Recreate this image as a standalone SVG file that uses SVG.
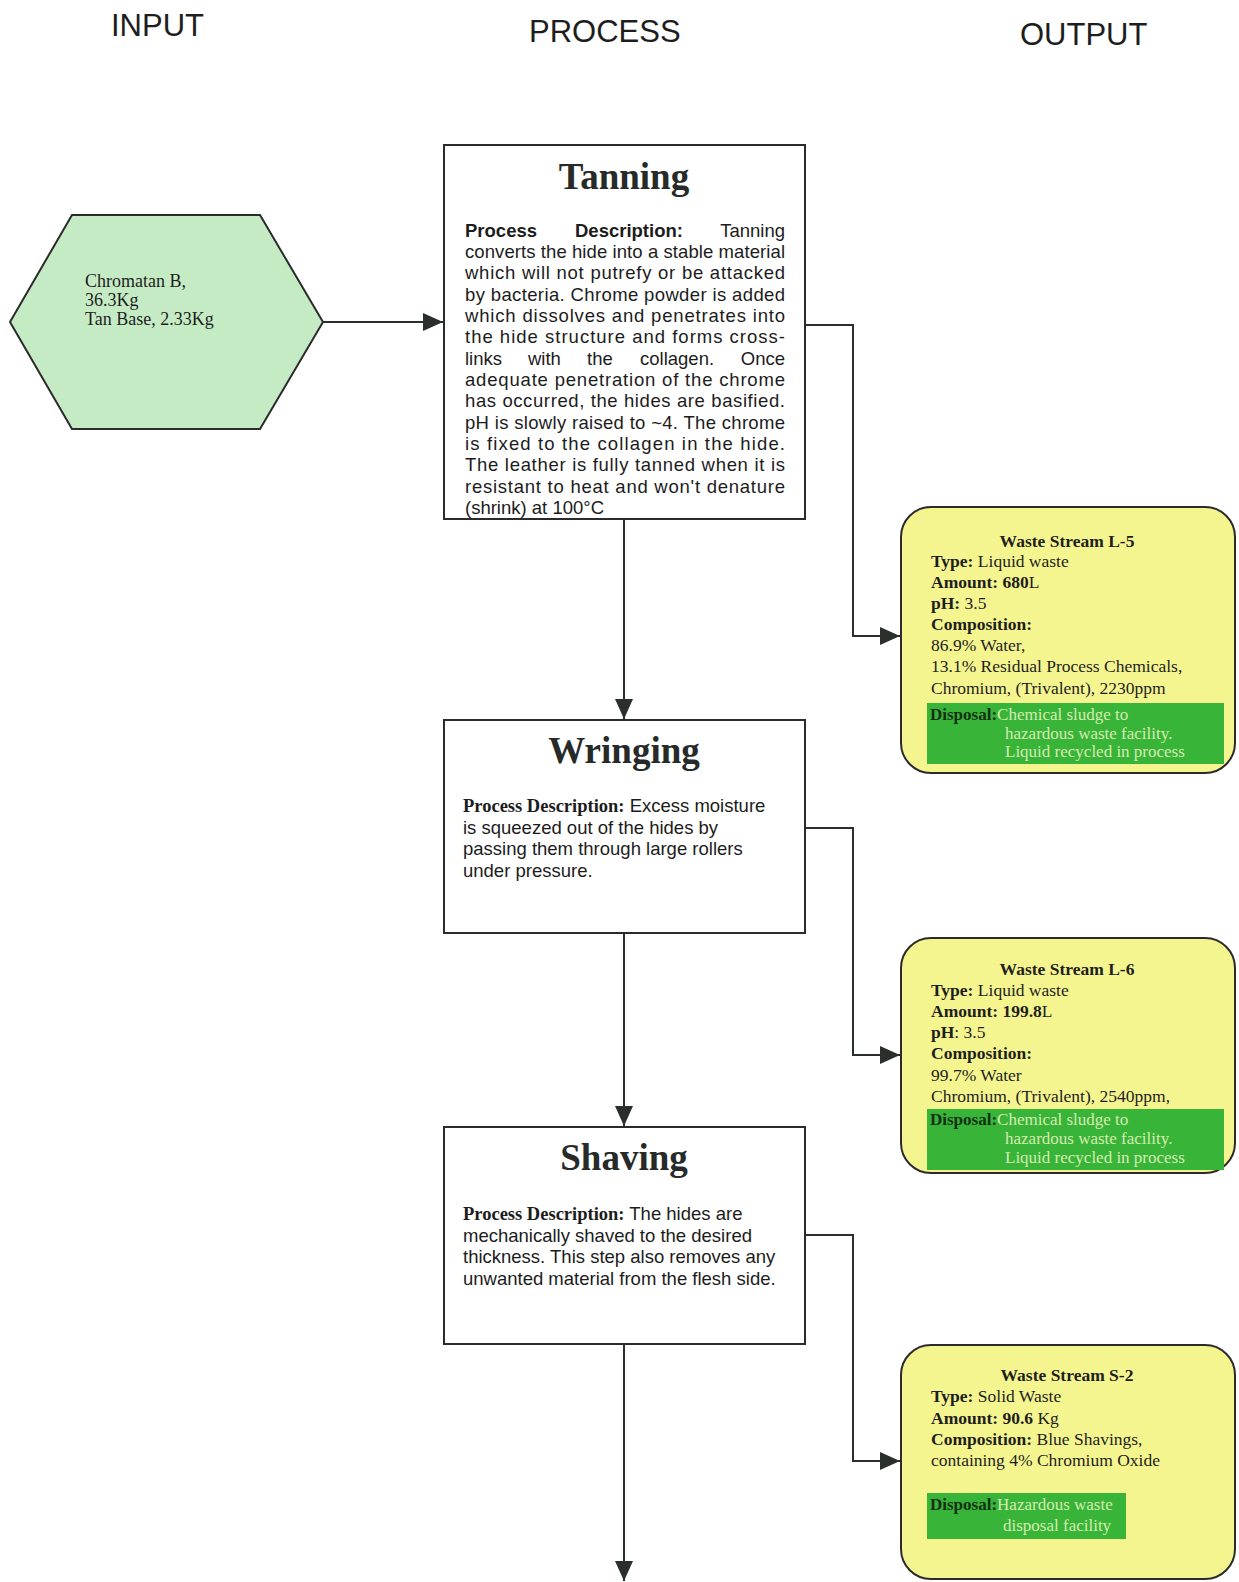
<svg xmlns="http://www.w3.org/2000/svg" width="1239" height="1582" viewBox="0 0 1239 1582">
  <defs>
    <marker id="arrow" markerUnits="userSpaceOnUse" viewBox="0 0 20 18" refX="20" refY="9" markerWidth="20" markerHeight="18" orient="auto">
      <path d="M0,0 L20,9 L0,18 z" fill="#2a2f2c"/>
    </marker>
    <style>
      .head { font-family: "Liberation Sans", Arial, sans-serif; font-size: 31px; fill: #1e1e1e; }
      .box { fill: #ffffff; stroke: #2b2b2b; stroke-width: 2; }
      .title { font-family: "Liberation Serif", "Times New Roman", serif; font-size: 37px; font-weight: bold; fill: #262a28; text-anchor: middle; }
      .desc { font-family: "Liberation Sans", Arial, sans-serif; font-size: 18.5px; fill: #1c1c1c; }
      .descb { font-weight: bold; }
      .pdb { font-family: "Liberation Serif", "Times New Roman", serif; font-weight: bold; font-size: 18.5px; }
      .waste { fill: #f5f590; stroke: #2b2b2b; stroke-width: 2; }
      .disp { fill: #38b438; }
      .wt { font-family: "Liberation Serif", "Times New Roman", serif; font-size: 17.5px; fill: #1e1e1e; }
      .b { font-weight: bold; }
      .dt { font-family: "Liberation Serif", "Times New Roman", serif; font-size: 17px; fill: #d6ecb0; }
      .dl { fill: #163016; font-weight: bold; }
      .conn { fill: none; stroke: #2a2f2c; stroke-width: 2; }
    </style>
  </defs>

  <rect width="1239" height="1582" fill="#ffffff"/>

  <!-- column headings -->
  <text class="head" x="111" y="36">INPUT</text>
  <text class="head" x="529" y="42">PROCESS</text>
  <text class="head" x="1020" y="45">OUTPUT</text>

  <!-- connectors -->
  <g id="connectors">
    <path class="conn" d="M323,322 H443" marker-end="url(#arrow)"/>
    <path class="conn" d="M624,519 V719" marker-end="url(#arrow)"/>
    <path class="conn" d="M624,933 V1126" marker-end="url(#arrow)"/>
    <path class="conn" d="M624,1344 V1581" marker-end="url(#arrow)"/>
    <path class="conn" d="M805,325 H853 V636 H900" marker-end="url(#arrow)"/>
    <path class="conn" d="M805,828 H853 V1055 H900" marker-end="url(#arrow)"/>
    <path class="conn" d="M805,1235 H853 V1461 H900" marker-end="url(#arrow)"/>
  </g>

  <!-- input chemicals -->
  <g id="input-chemicals">
    <polygon points="10,322 72,215 260,215 323,322 260,429 72,429" fill="#c5ebc5" stroke="#2b2b2b" stroke-width="2"/>
    <text class="wt" style="font-size:18px">
      <tspan x="85" y="287">Chromatan B,</tspan>
      <tspan x="85" y="306">36.3Kg</tspan>
      <tspan x="85" y="325">Tan Base, 2.33Kg</tspan>
    </text>
  </g>

  <!-- tanning step -->
  <g id="tanning">
    <rect class="box" x="444" y="145" width="361" height="374"/>
    <text class="title" x="624" y="189">Tanning</text>
    <g class="desc">
      <text x="465" y="236.5" class="descb">Process</text>
      <text x="575" y="236.5" class="descb">Description:</text>
      <text x="785" y="236.5" text-anchor="end">Tanning</text>
      <text x="465" y="258" textLength="320" lengthAdjust="spacing">converts the hide into a stable material</text>
      <text x="465" y="279.3" textLength="320" lengthAdjust="spacing">which will not putrefy or be attacked</text>
      <text x="465" y="300.7" textLength="320" lengthAdjust="spacing">by bacteria. Chrome powder is added</text>
      <text x="465" y="322" textLength="320" lengthAdjust="spacing">which dissolves and penetrates into</text>
      <text x="465" y="343.4" textLength="320" lengthAdjust="spacing">the hide structure and forms cross-</text>
      <text x="465" y="364.7">links</text>
      <text x="528" y="364.7">with</text>
      <text x="587" y="364.7">the</text>
      <text x="640" y="364.7">collagen.</text>
      <text x="785" y="364.7" text-anchor="end">Once</text>
      <text x="465" y="386" textLength="320" lengthAdjust="spacing">adequate penetration of the chrome</text>
      <text x="465" y="407.4" textLength="320" lengthAdjust="spacing">has occurred, the hides are basified.</text>
      <text x="465" y="428.7" textLength="320" lengthAdjust="spacing">pH is slowly raised to ~4. The chrome</text>
      <text x="465" y="450" textLength="320" lengthAdjust="spacing">is fixed to the collagen in the hide.</text>
      <text x="465" y="471.4" textLength="320" lengthAdjust="spacing">The leather is fully tanned when it is</text>
      <text x="465" y="492.7" textLength="320" lengthAdjust="spacing">resistant to heat and won't denature</text>
      <text x="465" y="514">(shrink) at 100°C</text>
    </g>
  </g>

  <!-- wringing step -->
  <g id="wringing">
    <rect class="box" x="444" y="720" width="361" height="213"/>
    <text class="title" x="624" y="763">Wringing</text>
    <text class="desc">
      <tspan x="463" y="812"><tspan class="pdb">Process Description:</tspan> Excess moisture</tspan>
      <tspan x="463" y="833.5">is squeezed out of the hides by</tspan>
      <tspan x="463" y="855">passing them through large rollers</tspan>
      <tspan x="463" y="876.5">under pressure.</tspan>
    </text>
  </g>

  <!-- shaving step -->
  <g id="shaving">
    <rect class="box" x="444" y="1127" width="361" height="217"/>
    <text class="title" x="624" y="1170">Shaving</text>
    <text class="desc">
      <tspan x="463" y="1220"><tspan class="pdb">Process Description:</tspan> The hides are</tspan>
      <tspan x="463" y="1241.5">mechanically shaved to the desired</tspan>
      <tspan x="463" y="1263">thickness. This step also removes any</tspan>
      <tspan x="463" y="1284.5">unwanted material from the flesh side.</tspan>
    </text>
  </g>

  <!-- waste stream L-5 -->
  <g id="waste-l5">
    <rect class="waste" x="901" y="507" width="334" height="266" rx="30" ry="30"/>
    <text class="wt b" x="1067" y="547" text-anchor="middle">Waste Stream L-5</text>
    <text class="wt">
      <tspan x="931" y="567"><tspan class="b">Type:</tspan> Liquid waste</tspan>
      <tspan x="931" y="588"><tspan class="b">Amount: 680</tspan>L</tspan>
      <tspan x="931" y="609"><tspan class="b">pH:</tspan> 3.5</tspan>
      <tspan x="931" y="630" class="b">Composition:</tspan>
      <tspan x="931" y="651">86.9% Water,</tspan>
      <tspan x="931" y="672">13.1% Residual Process Chemicals,</tspan>
      <tspan x="931" y="694">Chromium, (Trivalent), 2230ppm</tspan>
    </text>
    <rect class="disp" x="927" y="703" width="297" height="61"/>
    <text class="dt">
      <tspan x="930" y="720"><tspan class="dl">Disposal:</tspan>Chemical sludge to</tspan>
      <tspan x="1005" y="738.5">hazardous waste facility.</tspan>
      <tspan x="1005" y="757">Liquid recycled in process</tspan>
    </text>
  </g>

  <!-- waste stream L-6 -->
  <g id="waste-l6">
    <rect class="waste" x="901" y="938" width="334" height="235" rx="30" ry="30"/>
    <text class="wt b" x="1067" y="975" text-anchor="middle">Waste Stream L-6</text>
    <text class="wt">
      <tspan x="931" y="996"><tspan class="b">Type:</tspan> Liquid waste</tspan>
      <tspan x="931" y="1017"><tspan class="b">Amount: 199.8</tspan>L</tspan>
      <tspan x="931" y="1038"><tspan class="b">pH</tspan>: 3.5</tspan>
      <tspan x="931" y="1059" class="b">Composition:</tspan>
      <tspan x="931" y="1081">99.7% Water</tspan>
      <tspan x="931" y="1102">Chromium, (Trivalent), 2540ppm,</tspan>
    </text>
    <rect class="disp" x="927" y="1109" width="297" height="61"/>
    <text class="dt">
      <tspan x="930" y="1125"><tspan class="dl">Disposal:</tspan>Chemical sludge to</tspan>
      <tspan x="1005" y="1144">hazardous waste facility.</tspan>
      <tspan x="1005" y="1163">Liquid recycled in process</tspan>
    </text>
  </g>

  <!-- waste stream S-2 -->
  <g id="waste-s2">
    <rect class="waste" x="901" y="1345" width="334" height="234" rx="30" ry="30"/>
    <text class="wt b" x="1067" y="1381" text-anchor="middle">Waste Stream S-2</text>
    <text class="wt">
      <tspan x="931" y="1402"><tspan class="b">Type:</tspan> Solid Waste</tspan>
      <tspan x="931" y="1424"><tspan class="b">Amount: 90.6</tspan> Kg</tspan>
      <tspan x="931" y="1445"><tspan class="b">Composition:</tspan> Blue Shavings,</tspan>
      <tspan x="931" y="1466">containing 4% Chromium Oxide</tspan>
    </text>
    <rect class="disp" x="927" y="1493" width="199" height="46"/>
    <text class="dt">
      <tspan x="930" y="1510"><tspan class="dl">Disposal:</tspan>Hazardous waste</tspan>
      <tspan x="1003" y="1531">disposal facility</tspan>
    </text>
  </g>
</svg>
